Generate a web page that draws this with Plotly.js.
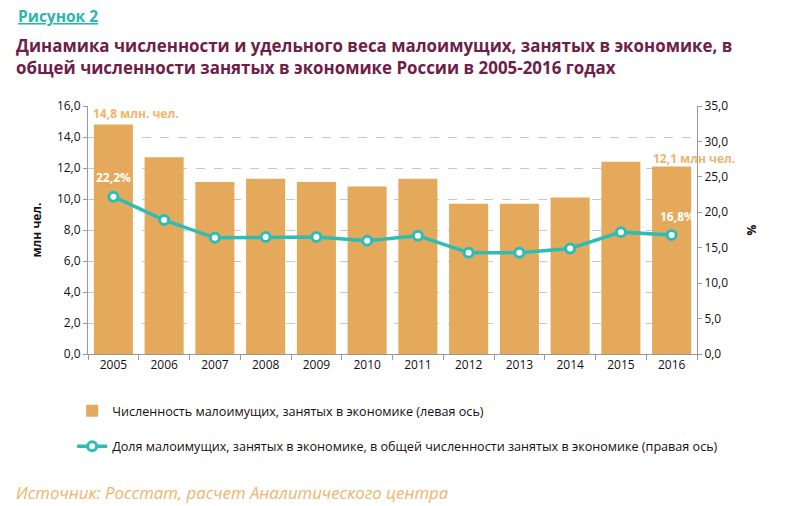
<!DOCTYPE html>
<html>
<head>
<meta charset="utf-8">
<script src="https://cdn.plot.ly/plotly-3.0.1.min.js"></script>
<style>
  body { margin: 0; background: #fff; }
  #chart { width: 811px; height: 506px; }
</style>
</head>
<body>
<div id="chart"></div>
<script>
var years = ['2005', '2006', '2007', '2008', '2009', '2010', '2011', '2012', '2013', '2014', '2015', '2016'];
// численность малоимущих, занятых в экономике, млн чел.
var poorEmployed = [14.8, 12.7, 11.1, 11.3, 11.1, 10.8, 11.3, 9.7, 9.7, 10.1, 12.4, 12.1];
// доля в общей численности занятых, %
var poorShare = [22.2, 18.9, 16.4, 16.5, 16.5, 16.0, 16.7, 14.3, 14.3, 14.9, 17.2, 16.8];

var FONT = '"Open Sans", Arial, sans-serif';
var ORANGE = '#E5A95C';
var TEAL = '#2DBDB5';
var last = years.length - 1;

var bars = {
    x: years,
    y: poorEmployed,
    type: 'bar',
    name: 'Численность малоимущих, занятых в экономике (левая ось)',
    legendgroup: 'a',
    marker: { color: ORANGE },
    hoverinfo: 'x+y'
};

var share = {
    x: years,
    y: poorShare,
    yaxis: 'y2',
    type: 'scatter',
    mode: 'lines+markers',
    name: 'Доля малоимущих, занятых в экономике, в общей численности занятых в экономике (правая ось)',
    legendgroup: 'b',
    line: { color: TEAL, width: 3.5 },
    marker: { color: '#fff', size: 9, line: { color: TEAL, width: 3 } }
};

var data = [bars, share];

var layout = {
    width: 811,
    height: 506,
    margin: { l: 88, r: 114, t: 106, b: 152 },
    paper_bgcolor: '#fff',
    plot_bgcolor: '#fff',
    separators: ', ',
    font: { family: FONT, size: 12, color: '#222' },
    bargap: 0.23,
    xaxis: {
        type: 'category',
        range: [-0.5, last + 0.5],
        tickson: 'boundaries',
        ticks: 'outside',
        ticklen: 5,
        tickcolor: '#999',
        showline: true,
        linecolor: '#999',
        tickfont: { size: 12, color: '#111' }
    },
    yaxis: {
        range: [0, 16],
        dtick: 2,
        tickformat: '.1f',
        ticks: 'outside',
        ticklen: 4,
        tickcolor: '#999',
        showline: true,
        linecolor: '#999',
        gridcolor: '#c8c8c8',
        griddash: 'dash',
        zeroline: false,
        tickfont: { size: 12, color: '#111' },
        title: { text: '<b>млн чел.</b>', font: { size: 12, color: '#111' }, standoff: 12 }
    },
    yaxis2: {
        overlaying: 'y',
        side: 'right',
        range: [0, 35],
        dtick: 5,
        tickformat: '.1f',
        ticks: 'outside',
        ticklen: 4,
        tickcolor: '#999',
        showline: true,
        linecolor: '#999',
        showgrid: false,
        zeroline: false,
        tickfont: { size: 12, color: '#111' },
        title: { text: '<b>%</b>', font: { size: 12, color: '#111' }, standoff: 20 }
    },
    showlegend: true,
    legend: {
        orientation: 'v',
        x: -0.026,
        xanchor: 'left',
        y: -0.17,
        yanchor: 'top',
        traceorder: 'grouped',
        tracegroupgap: 16,
        font: { size: 12.6, color: '#111' }
    },
    annotations: [
        {
            text: '<b><u>Рисунок 2</u></b>', xref: 'paper', yref: 'paper',
            x: -0.119, y: 1.363, xanchor: 'left', yanchor: 'middle', showarrow: false,
            font: { size: 15.5, color: '#2BB5B0' }
        },
        {
            text: '<b>Динамика численности и удельного веса малоимущих, занятых в экономике, в<br>общей численности занятых в экономике России в 2005-2016 годах</b>',
            xref: 'paper', yref: 'paper',
            x: -0.121, y: 1.2, xanchor: 'left', yanchor: 'middle', align: 'left', showarrow: false,
            font: { size: 16.9, color: '#6E1E47' }
        },
        {
            text: '<i>Источник: Росстат, расчет Аналитического центра</i>', xref: 'paper', yref: 'paper',
            x: -0.121, y: -0.56, xanchor: 'left', yanchor: 'middle', showarrow: false,
            font: { size: 16.8, color: '#F0B46C' }
        },
        {
            text: '<b>14,8 млн. чел.</b>', x: 0, y: poorEmployed[0], xref: 'x', yref: 'y',
            xanchor: 'left', yanchor: 'bottom', xshift: -22, yshift: 1, showarrow: false,
            font: { size: 12, color: '#F0B46C' }
        },
        {
            text: '<b>12,1 млн чел.</b>', x: last, y: poorEmployed[last], xref: 'x', yref: 'y',
            xanchor: 'left', yanchor: 'bottom', xshift: -21, yshift: -3, showarrow: false,
            font: { size: 12, color: '#F0B46C' }
        },
        {
            text: '<b>22,2%</b>', x: 0, y: poorShare[0], xref: 'x', yref: 'y2',
            xanchor: 'center', yanchor: 'bottom', yshift: 9, showarrow: false,
            font: { size: 12, color: '#fff' }
        },
        {
            text: '<b>16,8%</b>', x: last, y: poorShare[last], xref: 'x', yref: 'y2',
            xanchor: 'center', yanchor: 'bottom', yshift: 8, xshift: 6, showarrow: false,
            font: { size: 12, color: '#fff' }
        }
    ]
};

var config = { displayModeBar: false, responsive: false };

Plotly.newPlot('chart', data, layout, config);
</script>
</body>
</html>
